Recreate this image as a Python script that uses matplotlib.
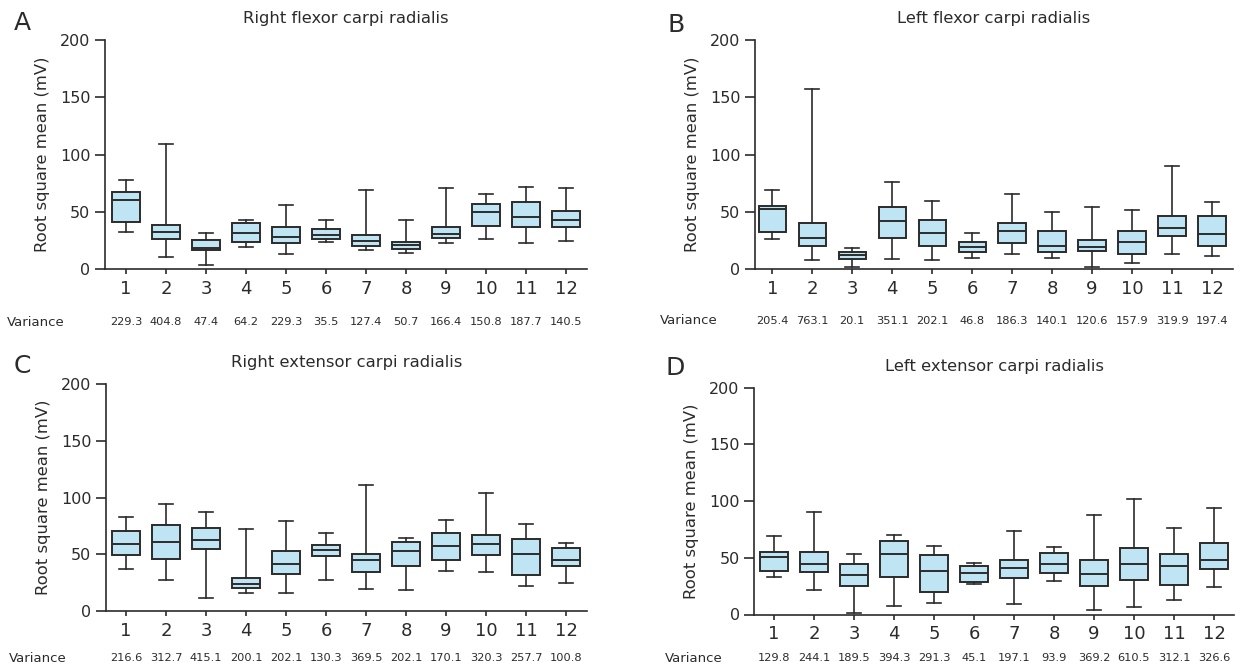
import matplotlib
matplotlib.use('Agg')
import matplotlib.pyplot as plt

plt.rcParams['font.family'] = ['DejaVu Sans']

groups = [str(i) for i in range(1, 13)]

# panel A - right flexor carpi radialis
a_low = [32.3, 11, 3.8, 19.8, 13, 23.5, 16.9, 14.2, 23, 26.5, 22.7, 24.7]
a_q1 = [41, 26.5, 16.9, 24.1, 22.7, 26.5, 20.6, 18, 27, 37.5, 36.9, 36.9]
a_med = [60.2, 32.3, 18.3, 31.7, 28.2, 29.9, 24.7, 21.2, 30.8, 50, 45.9, 43.3]
a_q3 = [67.7, 38.7, 25.6, 40.7, 36.6, 34.9, 30.2, 23.5, 36.6, 57.3, 58.7, 51.2]
a_high = [77.9, 109.3, 31.7, 43, 56.4, 43, 69.2, 43, 70.6, 66, 72.1, 70.6]
a_var = ['229.3', '404.8', '47.4', '64.2', '229.3', '35.5', '127.4', '50.7', '166.4', '150.8', '187.7', '140.5']

# panel B - left flexor carpi radialis
b_low = [26.7, 7.8, 2, 8.7, 8.1, 9.9, 13.3, 10.1, 2, 5.8, 13.6, 11.6]
b_q1 = [32.5, 20.3, 8.7, 27.5, 20.3, 15.4, 23.2, 15.4, 15.9, 13.6, 29.3, 20.6]
b_med = [52.8, 27.5, 12.2, 42.3, 31.9, 19.1, 33.6, 20.3, 19.7, 24, 36.2, 31]
b_q3 = [55.1, 40.3, 15.1, 54.5, 42.9, 24, 40.3, 33, 25.8, 33, 46.7, 46.1]
b_high = [69.3, 157.4, 18.8, 75.9, 60, 31.9, 65.8, 49.9, 54.2, 51.9, 90.1, 59.1]
b_var = ['205.4', '763.1', '20.1', '351.1', '202.1', '46.8', '186.3', '140.1', '120.6', '157.9', '319.9', '197.4']

# panel C - right extensor carpi radialis
c_low = [37.3, 27.6, 12, 15.9, 16.4, 27.3, 19.7, 18.8, 35.5, 34.7, 22, 25]
c_q1 = [49.3, 46.1, 54.6, 20.6, 33.2, 48.8, 34.4, 39.6, 45.5, 49.6, 31.7, 40.2]
c_med = [59, 60.8, 62.3, 24.1, 42, 53.5, 44.9, 52.9, 57.3, 59, 50.2, 44.9]
c_q3 = [70.8, 75.8, 73.4, 29.1, 53.2, 58.7, 50.5, 61.4, 69.3, 66.7, 63.7, 56.1]
c_high = [83.1, 94.3, 87.5, 72.5, 79.6, 69.3, 110.7, 64.6, 80.2, 103.7, 76.9, 59.9]
c_var = ['216.6', '312.7', '415.1', '200.1', '202.1', '130.3', '369.5', '202.1', '170.1', '320.3', '257.7', '100.8']

# panel D - left extensor carpi radialis
d_low = [33.1, 22, 1.5, 7.9, 10, 27.3, 9.4, 29.3, 4.4, 6.7, 13.2, 24]
d_q1 = [38.1, 37.2, 25.2, 32.8, 19.9, 29, 32.6, 37, 25.2, 30.5, 26.1, 39.9]
d_med = [50.7, 44.6, 35.2, 53.4, 38.4, 36.7, 40.8, 44.9, 35.5, 44.9, 43.1, 47.8]
d_q3 = [55.1, 55.1, 44.9, 64.8, 52.2, 42.5, 48.1, 54.3, 47.8, 58.4, 53.7, 63.3]
d_high = [69.2, 90, 53.7, 69.8, 60.1, 45.5, 73.9, 59.8, 87.4, 102, 76.2, 93.5]
d_var = ['129.8', '244.1', '189.5', '394.3', '291.3', '45.1', '197.1', '93.9', '369.2', '610.5', '312.1', '326.6']

W, H = 1240, 670
fig = plt.figure(figsize=(W / 100, H / 100), dpi=100)
dark = '#2b2b2b'
fill = '#bfe4f4'


def px_axes(left, right, top, bottom):
    return fig.add_axes([left / W, 1 - bottom / H, (right - left) / W, (bottom - top) / H])


def panel(box, xlim, letter, letter_xy, title, var_y, var_x, low, q1, med, q3, high, var):
    ax = px_axes(*box)
    stats = []
    for i in range(len(groups)):
        stats.append({'whislo': low[i], 'q1': q1[i], 'med': med[i], 'q3': q3[i],
                      'whishi': high[i], 'fliers': [], 'label': groups[i]})
    ax.bxp(stats, positions=range(1, 13), widths=0.68, patch_artist=True, showfliers=False,
           boxprops=dict(facecolor=fill, edgecolor=dark, linewidth=1.4),
           medianprops=dict(color=dark, linewidth=1.4),
           whiskerprops=dict(color=dark, linewidth=1.2),
           capprops=dict(color=dark, linewidth=1.2))
    ax.set_xlim(*xlim)
    ax.set_ylim(0, 200)
    ax.set_yticks([0, 50, 100, 150, 200])
    for s in ['top', 'right']:
        ax.spines[s].set_visible(False)
    for s in ['left', 'bottom']:
        ax.spines[s].set_color(dark)
        ax.spines[s].set_linewidth(1.2)
    ax.tick_params(axis='y', direction='out', length=7, width=1.2, color=dark,
                   labelsize=11.5, labelcolor=dark, pad=3.5)
    ax.tick_params(axis='x', direction='out', length=3.5, width=1.2, color=dark,
                   labelsize=13, labelcolor=dark, pad=4)
    ax.set_ylabel('Root square mean (mV)', fontsize=11.8, color=dark)
    ax.yaxis.set_label_coords(-0.115, 0.5)
    ax.set_title(title, fontsize=11.8, color=dark, pad=12)
    fig.text(letter_xy[0] / W, 1 - letter_xy[1] / H, letter, fontsize=18, color=dark,
             ha='center', va='center')
    fig.text(var_x / W, 1 - var_y / H, 'Variance', fontsize=9.5, color=dark,
             ha='left', va='center')
    for i, v in enumerate(var):
        ax.text(i + 1, -(var_y - box[3]) / (box[3] - box[2]), v,
                transform=ax.get_xaxis_transform(), fontsize=8.2, color=dark,
                ha='center', va='center')
    return ax


panel((105, 587, 40, 269.3), (0.475, 12.525), 'A', (22, 23), 'Right flexor carpi radialis',
      322, 7, a_low, a_q1, a_med, a_q3, a_high, a_var)
panel((755, 1233, 40, 269.3), (0.57, 12.525), 'B', (676, 25), 'Left flexor carpi radialis',
      321, 660, b_low, b_q1, b_med, b_q3, b_high, b_var)
panel((106, 587, 384, 611.3), (0.5, 12.525), 'C', (22, 366), 'Right extensor carpi radialis',
      658, 9, c_low, c_q1, c_med, c_q3, c_high, c_var)
panel((754.3, 1234, 387.7, 614.5), (0.508, 12.5), 'D', (675, 368), 'Left extensor carpi radialis',
      658, 665, d_low, d_q1, d_med, d_q3, d_high, d_var)

fig.savefig('out.png', dpi=100)
